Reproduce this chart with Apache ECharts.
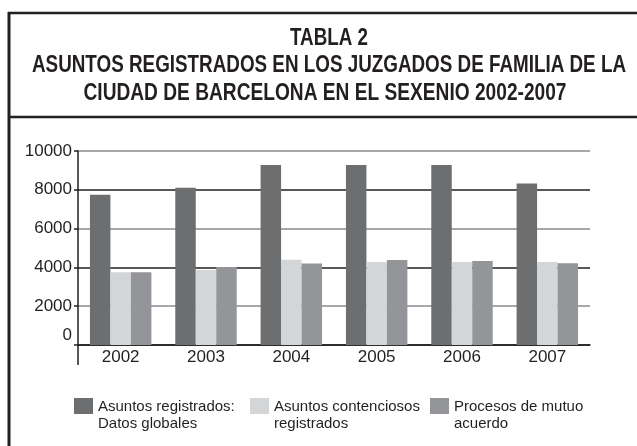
<!DOCTYPE html>
<html>
<head>
<meta charset="utf-8">
<script src="https://cdn.jsdelivr.net/npm/echarts@6/dist/echarts.min.js"></script>
<style>
  html, body { margin: 0; padding: 0; background: #fff; }
  #chart { width: 637px; height: 446px; }
</style>
</head>
<body>
<div id="chart"></div>
<script>
// datos
var years = ['2002', '2003', '2004', '2005', '2006', '2007']
var globales = [7750, 8100, 9280, 9280, 9280, 8330]
var contenciosos = [3750, 3870, 4400, 4280, 4280, 4280]
var mutuoAcuerdo = [3750, 4020, 4200, 4380, 4330, 4220]
var seriesNames = [
  'Asuntos registrados:\nDatos globales',
  'Asuntos contenciosos\nregistrados',
  'Procesos de mutuo\nacuerdo'
]
var titleLines = [
  'TABLA 2',
  'ASUNTOS REGISTRADOS EN LOS JUZGADOS DE FAMILIA DE LA',
  'CIUDAD DE BARCELONA EN EL SEXENIO 2002-2007'
]
var colors = ['#6d6e70', '#d4d5d7', '#949598']

var myChart = echarts.init(document.getElementById('chart'))

// el título es una letra condensada: se estrecha la Liberation Sans
var titleFamily = '"Liberation Sans", sans-serif'
var titleSize = 23
var ctx = document.createElement('canvas').getContext('2d')
ctx.font = 'bold ' + titleSize + 'px ' + titleFamily
function titleText (txt, cx, cy, targetWidth) {
  var w = ctx.measureText(txt).width
  return {
    type: 'text',
    x: cx,
    y: cy,
    scaleX: targetWidth / w,
    style: {
      text: txt,
      x: 0,
      y: 0,
      textAlign: 'center',
      textVerticalAlign: 'middle',
      fontFamily: titleFamily,
      fontWeight: 'bold',
      fontSize: titleSize,
      fill: '#231f20'
    }
  }
}

// cuadrado arriba y punto invisible abajo para que el icono quede a la altura de la primera línea
var legendIcon = 'path://M0 0H19V16H0Z M0 33.9L0.01 34Z'

function legendFor (i, left) {
  return {
    data: [seriesNames[i]],
    left: left,
    top: 398,
    padding: 0,
    itemWidth: 19,
    itemHeight: 34,
    icon: legendIcon,
    itemStyle: { borderWidth: 0 },
    textStyle: {
      fontFamily: '"Liberation Sans", sans-serif',
      fontSize: 15,
      lineHeight: 17,
      color: '#231f20'
    }
  }
}

myChart.setOption({
  animation: false,
  color: colors,
  graphic: [
    // marco
    { type: 'line', shape: { x1: 8, y1: 13, x2: 637, y2: 13 }, style: { stroke: '#231f20', lineWidth: 2.5 } },
    { type: 'line', shape: { x1: 9, y1: 12, x2: 9, y2: 446 }, style: { stroke: '#231f20', lineWidth: 3 } },
    { type: 'line', shape: { x1: 8, y1: 117, x2: 637, y2: 117 }, style: { stroke: '#231f20', lineWidth: 2.5 } },
    // prolongación del eje vertical bajo el eje x
    { type: 'line', shape: { x1: 78, y1: 345, x2: 78, y2: 365 }, style: { stroke: '#231f20', lineWidth: 1.5 } },
    titleText(titleLines[0], 329, 39, 78),
    titleText(titleLines[1], 329, 66, 594),
    titleText(titleLines[2], 325, 94, 483)
  ],
  legend: [legendFor(0, 74), legendFor(1, 250), legendFor(2, 430)],
  grid: { left: 78, right: 47, top: 151, bottom: 101 },
  xAxis: {
    type: 'category',
    data: years,
    axisLine: { lineStyle: { color: '#231f20', width: 1.5 } },
    axisTick: { show: false },
    axisLabel: {
      fontFamily: '"Liberation Sans", sans-serif',
      fontSize: 17,
      color: '#231f20',
      margin: 4
    }
  },
  yAxis: {
    type: 'value',
    min: 0,
    max: 10000,
    interval: 2000,
    axisLine: { show: true, lineStyle: { color: '#231f20', width: 1.5 } },
    axisTick: { show: true, length: 4, lineStyle: { color: '#231f20', width: 1.5 } },
    axisLabel: {
      fontFamily: '"Liberation Sans", sans-serif',
      fontSize: 17,
      color: '#231f20',
      margin: 6,
      formatter: function (v) { return v === 0 ? '{z|0}' : String(v) },
      rich: {
        z: { fontFamily: '"Liberation Sans", sans-serif', fontSize: 17, color: '#231f20', padding: [0, 0, 20, 0] }
      }
    },
    splitLine: { show: true, lineStyle: { color: ['#231f20', '#8a8a8c'], width: 1.5 } }
  },
  series: [
    { name: seriesNames[0], type: 'bar', data: globales, barGap: '0%', barCategoryGap: '28%' },
    { name: seriesNames[1], type: 'bar', data: contenciosos },
    { name: seriesNames[2], type: 'bar', data: mutuoAcuerdo }
  ]
})
</script>
</body>
</html>
